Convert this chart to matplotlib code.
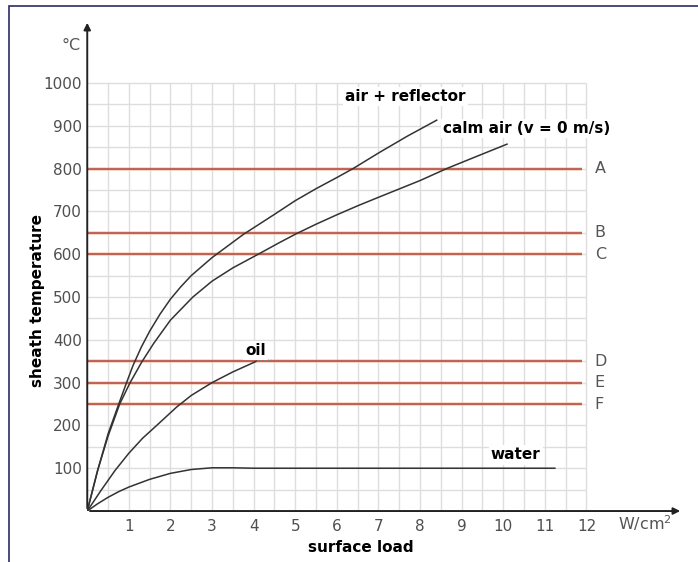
import matplotlib
matplotlib.use("Agg")
import matplotlib.pyplot as plt
from matplotlib.patches import Rectangle

# surface load (W/cm2) vs sheath temperature (degC)
refl_x = [0, 0.25, 0.5, 0.75, 0.93, 1.1, 1.3, 1.5, 1.75, 2.0, 2.25, 2.5, 3.0, 3.5, 3.75,
          4.5, 5.0, 5.5, 6.0, 6.39, 7.03, 7.7, 8.4]
refl_y = [0, 95, 180, 248, 296, 340, 383, 420, 460, 495, 524, 550, 592, 628, 646,
          693, 725, 753, 779, 800, 838, 876, 913]

calm_x = [0, 0.25, 0.5, 0.78, 1.03, 1.31, 1.6, 2.0, 2.54, 3.0, 3.5, 4.15, 4.6, 5.03,
          5.5, 6.0, 6.5, 7.03, 8.0, 8.64, 9.4, 10.09]
calm_y = [0, 95, 175, 250, 300, 348, 392, 446, 500, 537, 568, 602, 626, 648,
          670, 692, 713, 734, 772, 800, 830, 857]

oil_x = [0, 0.33, 0.67, 1.0, 1.33, 1.67, 2.15, 2.5, 3.0, 3.5, 4.07]
oil_y = [0, 48, 95, 135, 170, 200, 243, 270, 300, 325, 350]

water_x = [0, 0.25, 0.5, 0.75, 1.0, 1.5, 2.0, 2.5, 3.0, 3.5, 4.0, 6.0, 8.0, 11.24]
water_y = [0, 17, 32, 45, 56, 74, 88, 97, 101, 101, 100, 100, 100, 100]

limit_names = ["A", "B", "C", "D", "E", "F"]
limit_temps = [800, 650, 600, 350, 300, 250]

x_ticks = list(range(1, 13))
y_ticks = list(range(100, 1001, 100))

fig = plt.figure(figsize=(6.98, 5.62), dpi=100)
ax = fig.add_axes([0.125, 0.0907, 0.8535, 0.8737])
ax.set_xlim(0, 14.32)
ax.set_ylim(0, 1147)
for s in ax.spines.values():
    s.set_visible(False)

# fine grid
gx = [i * 0.5 for i in range(1, 25)]
gy = [i * 50 for i in range(1, 21)]
ax.vlines(gx, 0, 1000, color="#dedede", lw=1.0, zorder=1)
ax.hlines(gy, 0, 12, color="#dedede", lw=1.0, zorder=1)

# limit lines A..F
for name, t in zip(limit_names, limit_temps):
    ax.hlines(t, 0, 11.9, color="#f2b48f", lw=2.8, alpha=0.5, zorder=2)
    ax.hlines(t, 0, 11.9, color="#b3443a", lw=1.1, zorder=3)
    ax.text(12.2, t, name, color="#555555", fontsize=11.5, va="center", ha="left")

# curves
ax.plot(refl_x, refl_y, color="#333333", lw=1.1, zorder=4)
ax.plot(calm_x, calm_y, color="#333333", lw=1.1, zorder=4)
ax.plot(oil_x, oil_y, color="#333333", lw=1.1, zorder=4)
ax.plot([4.07, 4.43], [350, 352], color="#888888", lw=1, ls=":", zorder=4)
ax.plot(water_x, water_y, color="#333333", lw=1.1, zorder=4)

# axes arrows
ax.annotate("", xy=(0, 1147), xytext=(0, 0), annotation_clip=False,
            arrowprops=dict(arrowstyle="-|>", color="#222222", lw=1.4, mutation_scale=10))
ax.annotate("", xy=(14.32, 0), xytext=(0, 0), annotation_clip=False,
            arrowprops=dict(arrowstyle="-|>", color="#222222", lw=1.4, mutation_scale=10))

ax.set_xticks(x_ticks)
ax.set_yticks(y_ticks)
ax.tick_params(length=0, labelsize=11, labelcolor="#4f4f4f")
ax.tick_params(axis="x", pad=6)
ax.tick_params(axis="y", pad=4)

ax.text(-0.4, 1088, "°C", color="#555555", fontsize=11.5, ha="center", va="center")
ax.text(12.75, -28, "W/cm$^2$", color="#555555", fontsize=11.5, ha="left", va="center")

bold = dict(family="DejaVu Sans", fontweight="bold", fontsize=11, color="black",
            bbox=dict(facecolor="white", edgecolor="none", pad=1.5), zorder=6)
ax.text(6.2, 968, "air + reflector", ha="left", va="center", **bold)
ax.text(8.55, 893, "calm air (v = 0 m/s)", ha="left", va="center", **bold)
ax.text(3.8, 375, "oil", ha="left", va="center", **bold)
ax.text(9.7, 131, "water", ha="left", va="center", **bold)

fig.text(0.054, 0.466, "sheath temperature", rotation=90, ha="center", va="center",
         family="DejaVu Sans", fontweight="bold", fontsize=11)
fig.text(0.517, 0.026, "surface load", ha="center", va="center",
         family="DejaVu Sans", fontweight="bold", fontsize=11)

# frame around picture
fig.patches.append(Rectangle((9 / 698, -0.1), 1.2, (562 - 6) / 562 + 0.1,
                             transform=fig.transFigure, fill=False,
                             edgecolor="#2b2b6b", lw=1.2))

fig.savefig("out.png", dpi=100)
